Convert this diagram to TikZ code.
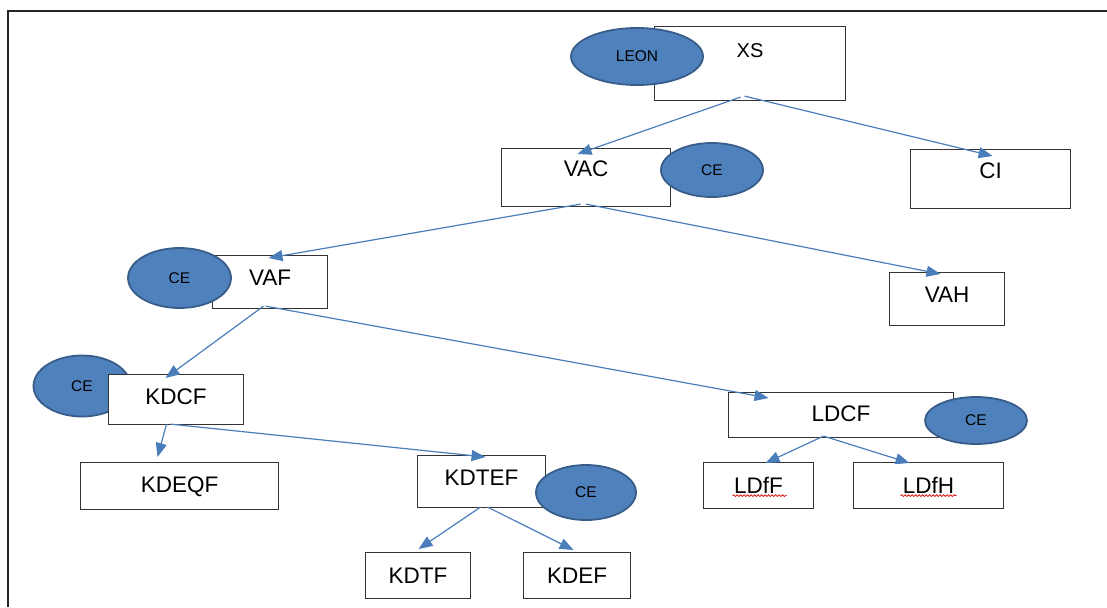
\documentclass[tikz,border=0pt]{standalone}
\usepackage{fontspec}
\setmainfont{Liberation Sans}
\usepackage{tikz}
\usetikzlibrary{arrows.meta,shapes.geometric,decorations.pathmorphing}
\definecolor{cefill}{RGB}{79,129,189}
\definecolor{ceedge}{RGB}{56,93,138}
\definecolor{linkblue}{RGB}{74,126,187}

\begin{document}
\begin{tikzpicture}[x=1pt,y=-1pt,>={Triangle[length=14pt,width=11pt]},
  box/.style={draw=black!80,line width=1.1pt,fill=white,inner sep=0pt,anchor=north west,font=\fontsize{22.5}{27}\selectfont},
  ce/.style={ellipse,draw=ceedge,line width=1.8pt,fill=cefill,inner sep=0pt,font=\fontsize{15.5}{18}\selectfont},
  link/.style={->,linkblue,line width=1.2pt},
  squiggle/.style={red!85!black,line width=0.7pt,decorate,decoration={snake,amplitude=0.9pt,segment length=3.5pt}}]
  \useasboundingbox (0,0) rectangle (1107,607);
  \draw[black!85,line width=2pt] (8,607) -- (8,11) -- (1107,11);
  % top levels
  \node[box,minimum width=191pt,text height=31pt,text depth=43pt,font=\fontsize{20}{24}\selectfont] (xs) at (654,26) {XS};
  \node[ce,minimum width=132pt,minimum height=57pt] (leon) at (637,56.5) {LEON};
  \node[box,minimum width=169pt,text height=28pt,text depth=30pt] (vac) at (501,148) {VAC};
  \node[ce,minimum width=102pt,minimum height=54pt] (vacce) at (712,170) {CE};
  \node[box,minimum width=160pt,text height=29pt,text depth=30pt] (ci) at (910,149) {CI};
  \node[box,minimum width=115pt,text height=30pt,text depth=23pt] (vaf) at (212,255) {VAF};
  \node[ce,minimum width=103pt,minimum height=60pt] (vafce) at (179.5,278) {CE};
  \node[box,minimum width=115pt,text height=30pt,text depth=23pt] (vah) at (889,272) {VAH};
  % KD and LD branches
  \node[ce,minimum width=97pt,minimum height=61pt] (kdcfce) at (82,386) {CE};
  \node[box,minimum width=135pt,text height=30pt,text depth=20pt] (kdcf) at (108,374) {KDCF};
  \node[box,minimum width=225pt,text height=29pt,text depth=16pt] (ldcf) at (728,392) {LDCF};
  \node[ce,minimum width=102pt,minimum height=47pt] (ldcfce) at (976,420.5) {CE};
  \node[box,minimum width=198pt,text height=30pt,text depth=17pt] (kdeqf) at (80,462) {KDEQF};
  \node[box,minimum width=128pt,text height=30pt,text depth=22pt] (kdtef) at (417,455) {KDTEF};
  \node[ce,minimum width=100pt,minimum height=55pt] (kdtefce) at (586,492.5) {CE};
  \node[box,minimum width=110pt,text height=31pt,text depth=15pt] (ldff) at (703,462) {LDfF};
  \node[box,minimum width=150pt,text height=31pt,text depth=15pt] (ldfh) at (853,462) {LDfH};
  \node[box,minimum width=105pt,text height=31pt,text depth=15pt] (kdtf) at (365,552) {KDTF};
  \node[box,minimum width=107pt,text height=31pt,text depth=15pt] (kdef) at (523,552) {KDEF};
  \draw[squiggle] ([xshift=-26pt,yshift=-2pt]ldff.base) -- ([xshift=28pt,yshift=-2pt]ldff.base);
  \draw[squiggle] ([xshift=-28pt,yshift=-2pt]ldfh.base) -- ([xshift=28pt,yshift=-2pt]ldfh.base);
  % connectors
  \draw[link] ([xshift=-9.5pt,yshift=4pt]xs.south) -- ([xshift=-8.5pt,yshift=-6pt]vac.north);
  \draw[link] ([xshift=-5.5pt,yshift=5pt]xs.south) -- ([xshift=2pt,yshift=-7pt]ci.north);
  \draw[link] ([xshift=-5.5pt,yshift=3pt]vac.south) -- ([xshift=-1.5pt,yshift=-3pt]vaf.north);
  \draw[link] ([yshift=3pt]vac.south) -- ([xshift=-6.5pt,yshift=-2pt]vah.north);
  \draw[link] ([xshift=-6.5pt,yshift=3pt]vaf.south) -- ([xshift=-10.5pt,yshift=-4pt]kdcf.north);
  \draw[link] ([xshift=-4.5pt,yshift=3pt]vaf.south) -- ([xshift=-72.5pt,yshift=-6pt]ldcf.north);
  \draw[link] ([xshift=-9.5pt,yshift=1pt]kdcf.south) -- ([xshift=-22pt,yshift=5pt]kdeqf.north);
  \draw[link] ([xshift=-5.5pt,yshift=1pt]kdcf.south) -- ([xshift=4pt,yshift=-2pt]kdtef.north);
  \draw[link] ([xshift=-17.5pt,yshift=2pt]ldcf.south) -- ([xshift=7pt,yshift=-1pt]ldff.north);
  \draw[link] ([xshift=-17.5pt,yshift=2pt]ldcf.south) -- ([xshift=-19pt,yshift=-1pt]ldfh.north);
  \draw[link] ([xshift=-1pt,yshift=1pt]kdtef.south) -- ([xshift=.5pt,yshift=3pt]kdtf.north);
  \draw[link] ([xshift=6pt,yshift=1pt]kdtef.south) -- ([xshift=-3.5pt,yshift=2pt]kdef.north);
\end{tikzpicture}
\end{document}
